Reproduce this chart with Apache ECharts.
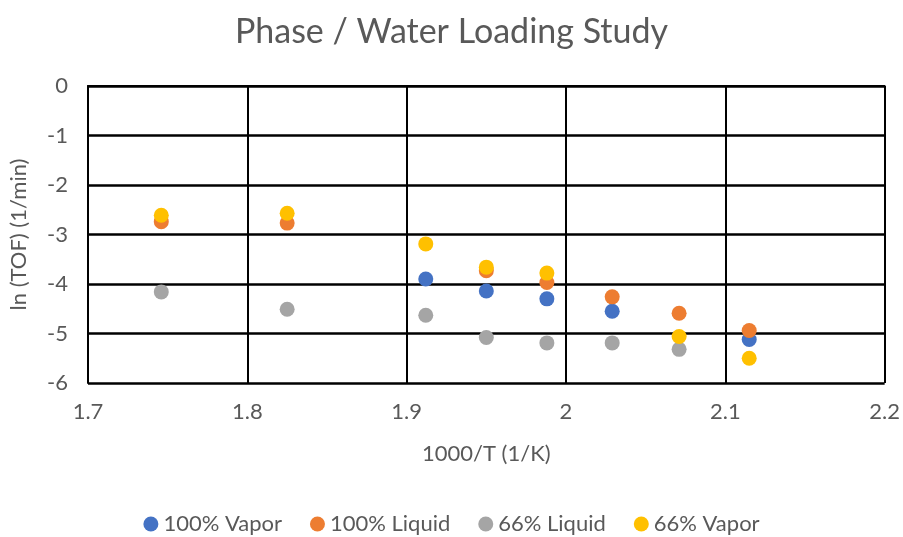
<!DOCTYPE html>
<html><head><meta charset="utf-8">
<script src="https://cdn.jsdelivr.net/npm/echarts@6/dist/echarts.min.js"></script>
<style>html,body{margin:0;padding:0;background:#fff}#c{width:903px;height:537px}</style>
</head><body><div id="c"></div>
<script>
const xValues = [1.746, 1.825, 1.912, 1.950, 1.988, 2.029, 2.071, 2.115];
const vapor100 = [null, null, -3.90, -4.14, -4.30, -4.55, null, -5.12];
const liquid100 = [-2.74, -2.77, null, -3.73, -3.97, -4.26, -4.59, -4.94];
const liquid66 = [-4.16, -4.51, -4.63, -5.08, -5.19, -5.19, -5.32, null];
const vapor66 = [-2.61, -2.57, -3.19, -3.66, -3.78, null, -5.06, -5.50];
const seriesNames = ['100% Vapor', '100% Liquid', '66% Liquid', '66% Vapor'];
const seriesColors = ['#4472C4', '#ED7D31', '#A5A5A5', '#FFC000'];

function pairs(ys){ const out=[]; ys.forEach((y,i)=>{ if(y!==null) out.push([xValues[i], y]); }); return out; }
const allData = [vapor100, liquid100, liquid66, vapor66];
const font = 'Lato, "Liberation Sans", sans-serif';
const chart = echarts.init(document.getElementById('c'));
chart.setOption({
  animation: false,
  title: { text: 'Phase / Water Loading Study', left: 'center', top: 10,
    textStyle: { fontFamily: font, fontSize: 34, fontWeight: 'normal', color: '#595959' } },
  legend: { top: 508, left: 'center', itemWidth: 15, itemHeight: 15, itemGap: 28, icon: 'circle',
    textStyle: { fontFamily: font, fontSize: 22, color: '#595959' }, data: seriesNames },
  grid: { left: 86, right: 16, top: 86, bottom: 154 },
  xAxis: { type: 'value', min: 1.7, max: 2.2, interval: 0.1,
    name: '1000/T (1/K)', nameLocation: 'middle', nameGap: 60,
    nameTextStyle: { fontFamily: font, fontSize: 22, color: '#595959' },
    axisLine: { lineStyle: { color: '#000', width: 2 } }, axisTick: { show: false },
    axisLabel: { fontFamily: font, fontSize: 22, color: '#595959', margin: 18,
      formatter: v => (Math.round(v*10)/10).toString() },
    splitLine: { show: true, lineStyle: { color: '#000', width: 2 } } },
  yAxis: { type: 'value', min: -6, max: 0, interval: 1,
    name: 'ln (TOF) (1/min)', nameLocation: 'middle', nameGap: 58,
    nameTextStyle: { fontFamily: font, fontSize: 22, color: '#595959' },
    axisLine: { show: true, lineStyle: { color: '#000', width: 2 } }, axisTick: { show: false },
    axisLabel: { fontFamily: font, fontSize: 22, color: '#595959', margin: 20 },
    splitLine: { show: true, lineStyle: { color: '#000', width: 2.5 } } },
  series: seriesNames.map((n,i)=>({ name: n, type: 'scatter', symbolSize: 15,
    itemStyle: { color: seriesColors[i], opacity: 1 }, data: pairs(allData[i]), z: 2+i }))
});
</script></body></html>
